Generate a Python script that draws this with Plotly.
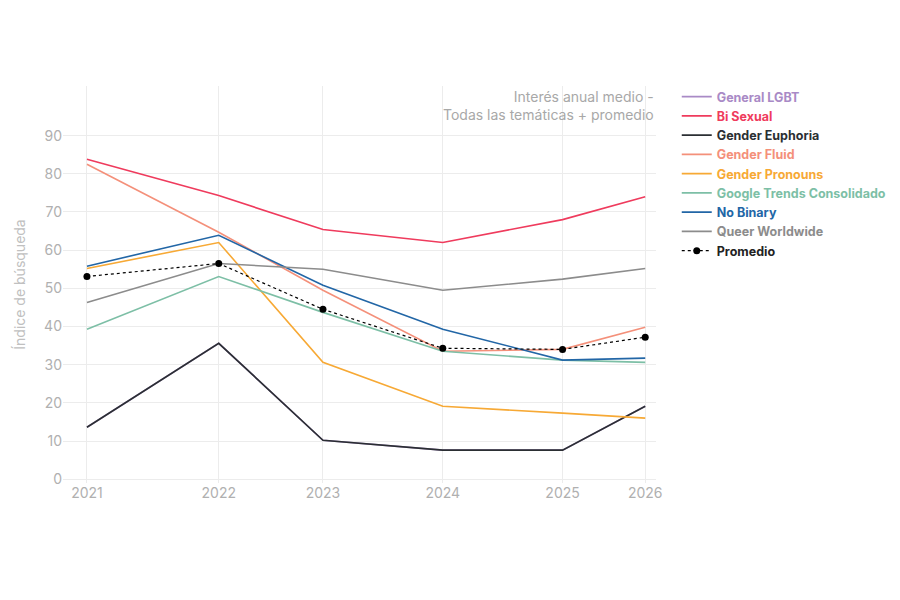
import plotly.graph_objects as go

years = ["2021", "2022", "2023", "2024", "2025", "2026"]
x_pos = [2021.0, 2022.1, 2022.97, 2023.97, 2024.97, 2025.66]

general_lgbt = [13.6, 35.6, 10.2, 7.6, 7.6, 19.1]
bi_sexual = [83.8, 74.3, 65.4, 62.0, 68.0, 74.0]
gender_euphoria = [13.6, 35.6, 10.2, 7.6, 7.6, 19.1]
gender_fluid = [82.5, 64.7, 49.5, 33.5, 34.0, 39.8]
gender_pronouns = [55.2, 62.0, 30.6, 19.1, 17.3, 16.0]
google_trends = [39.3, 53.1, 43.7, 33.5, 31.2, 30.6]
no_binary = [55.8, 63.9, 50.8, 39.3, 31.2, 31.7]
queer = [46.3, 56.5, 55.0, 49.5, 52.4, 55.2]
promedio = [53.1, 56.5, 44.5, 34.3, 34.0, 37.2]

series = [
    ("General LGBT", general_lgbt, "#a98ac6"),
    ("Bi Sexual", bi_sexual, "#ef3b5d"),
    ("Gender Euphoria", gender_euphoria, "#2b2f33"),
    ("Gender Fluid", gender_fluid, "#f4907a"),
    ("Gender Pronouns", gender_pronouns, "#f7a935"),
    ("Google Trends Consolidado", google_trends, "#7dbfa6"),
    ("No Binary", no_binary, "#2266a6"),
    ("Queer Worldwide", queer, "#8c8c8c"),
]

fig = go.Figure()
for name, vals, col in series:
    label = f"<span style='color:{col}'><b>{name}</b></span>"
    fig.add_trace(go.Scatter(x=x_pos, y=vals, mode="lines", name=label,
                             line=dict(color=col, width=1.6)))
fig.add_trace(go.Scatter(x=x_pos, y=promedio, mode="lines+markers", name="<b>Promedio</b>",
                         line=dict(color="black", width=1.2, dash="dot"),
                         marker=dict(color="black", size=7)))

fig.update_layout(
    width=900, height=600,
    paper_bgcolor="white", plot_bgcolor="white",
    margin=dict(l=55, r=252, t=78, b=125),
    font=dict(family="Inter, Roboto, sans-serif", color="#bbbbbb", size=13),
    showlegend=True,
    legend=dict(x=1.035, y=1.01, yanchor="top", xanchor="left",
                font=dict(size=12.5, color="#222"), tracegroupgap=0, itemwidth=30),
    annotations=[dict(text="Interés anual medio -<br>Todas las temáticas + promedio",
                      xref="paper", yref="paper", x=1.0, y=1.0, xanchor="right",
                      yanchor="top", align="right", showarrow=False,
                      font=dict(size=14, color="#a8a8a8"))],
)
fig.update_xaxes(range=[2020.8, 2025.75], tickvals=x_pos, ticktext=years,
                 showgrid=True, gridcolor="#ececec", zeroline=False, showline=False,
                 ticks="", tickfont=dict(size=14, color="#b0b0b0"))
fig.update_yaxes(range=[-1, 103], tickvals=list(range(0, 100, 10)),
                 showgrid=True, gridcolor="#ececec", zeroline=False,
                 title=dict(text="Índice de búsqueda", font=dict(size=14, color="#c0c0c0")),
                 tickfont=dict(size=14, color="#b0b0b0"))

fig.write_html("out.html")
